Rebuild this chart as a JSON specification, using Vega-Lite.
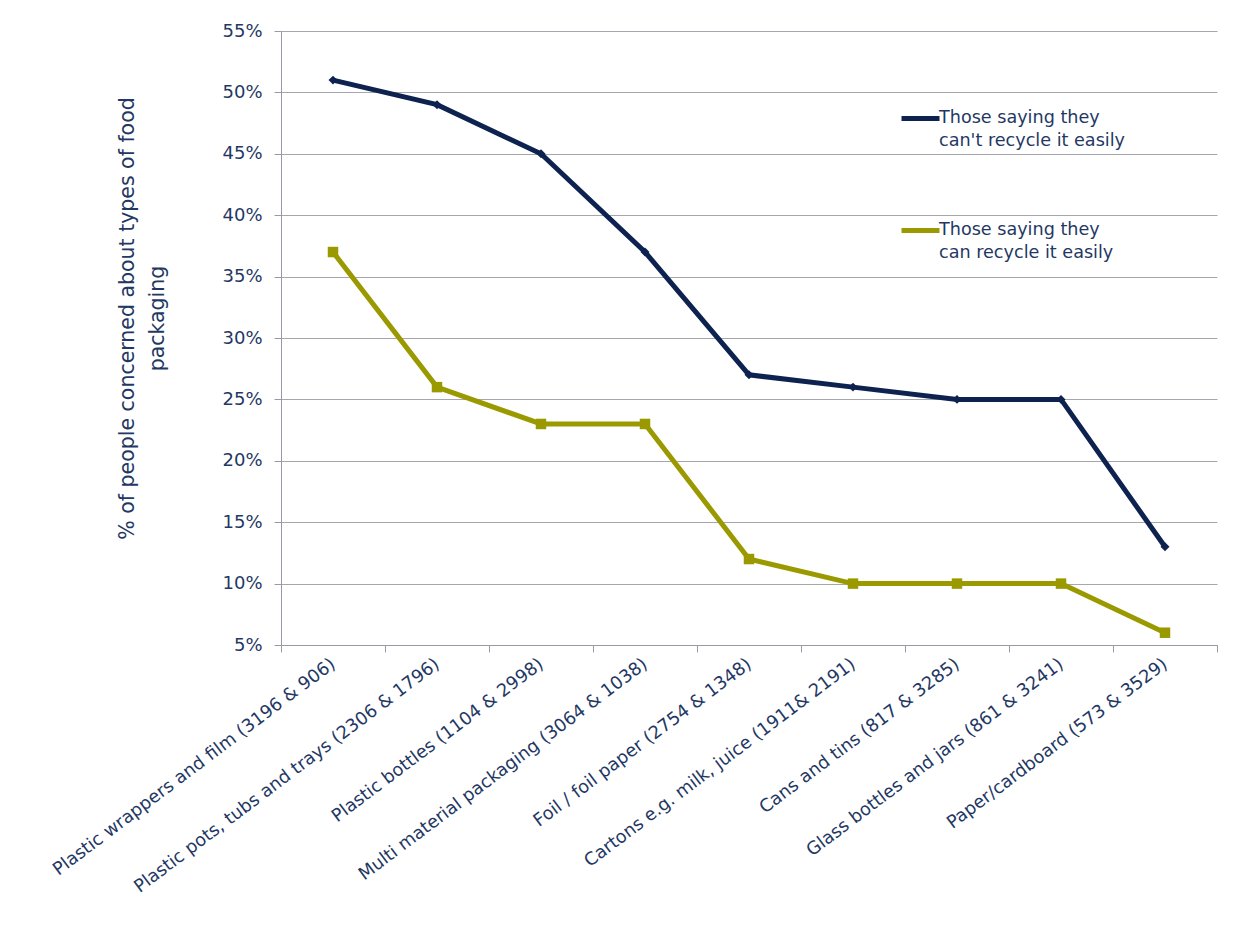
{
  "$schema": "https://vega.github.io/schema/vega-lite/v6.json",
  "autosize": "none",
  "padding": {"left": 281, "top": 31, "right": 20, "bottom": 289},
  "width": 936,
  "height": 614,
  "background": "white",
  "config": {
    "font": "DejaVu Sans",
    "view": {"stroke": null},
    "axis": {"labelColor": "#1F3864", "titleColor": "#1F3864", "labelFont": "DejaVu Sans", "titleFont": "DejaVu Sans"}
  },
  "data": {
    "values": [
      {"cat": "Plastic wrappers and film (3196 & 906)", "series": "Those saying they can't recycle it easily", "v": 51},
      {"cat": "Plastic pots, tubs and trays (2306 & 1796)", "series": "Those saying they can't recycle it easily", "v": 49},
      {"cat": "Plastic bottles (1104 & 2998)", "series": "Those saying they can't recycle it easily", "v": 45},
      {"cat": "Multi material packaging (3064 & 1038)", "series": "Those saying they can't recycle it easily", "v": 37},
      {"cat": "Foil / foil paper (2754 & 1348)", "series": "Those saying they can't recycle it easily", "v": 27},
      {"cat": "Cartons e.g. milk, juice (1911& 2191)", "series": "Those saying they can't recycle it easily", "v": 26},
      {"cat": "Cans and tins (817 & 3285)", "series": "Those saying they can't recycle it easily", "v": 25},
      {"cat": "Glass bottles and jars (861 & 3241)", "series": "Those saying they can't recycle it easily", "v": 25},
      {"cat": "Paper/cardboard (573 & 3529)", "series": "Those saying they can't recycle it easily", "v": 13},
      {"cat": "Plastic wrappers and film (3196 & 906)", "series": "Those saying they can recycle it easily", "v": 37},
      {"cat": "Plastic pots, tubs and trays (2306 & 1796)", "series": "Those saying they can recycle it easily", "v": 26},
      {"cat": "Plastic bottles (1104 & 2998)", "series": "Those saying they can recycle it easily", "v": 23},
      {"cat": "Multi material packaging (3064 & 1038)", "series": "Those saying they can recycle it easily", "v": 23},
      {"cat": "Foil / foil paper (2754 & 1348)", "series": "Those saying they can recycle it easily", "v": 12},
      {"cat": "Cartons e.g. milk, juice (1911& 2191)", "series": "Those saying they can recycle it easily", "v": 10},
      {"cat": "Cans and tins (817 & 3285)", "series": "Those saying they can recycle it easily", "v": 10},
      {"cat": "Glass bottles and jars (861 & 3241)", "series": "Those saying they can recycle it easily", "v": 10},
      {"cat": "Paper/cardboard (573 & 3529)", "series": "Those saying they can recycle it easily", "v": 6}
    ]
  },
  "encoding": {
    "x": {
      "field": "cat", "type": "nominal", "sort": null,
      "scale": {"paddingInner": 0, "paddingOuter": 0},
      "axis": {
        "title": null, "labelAngle": -37, "labelAlign": "right", "labelBaseline": "middle",
        "labelFontSize": 17.8, "labelPadding": 10, "labelLimit": 500,
        "tickBand": "extent", "tickSize": 7, "tickColor": "#9A9AA6", "domainColor": "#9A9AA6",
        "grid": false
      }
    },
    "y": {
      "field": "v", "type": "quantitative",
      "scale": {"domain": [5, 55], "nice": false, "zero": false},
      "axis": {
        "values": [5, 10, 15, 20, 25, 30, 35, 40, 45, 50, 55],
        "labelExpr": "datum.value + '%'",
        "labelFontSize": 18, "labelPadding": 12,
        "tickSize": 7, "tickColor": "#9A9AA6", "domainColor": "#9A9AA6",
        "grid": true, "gridColor": "#A6A6AE", "gridWidth": 1,
        "title": ["% of people concerned about types of food", "packaging"],
        "titleFontSize": 20.5, "titleFontWeight": "normal", "titleAngle": -90,
        "titleX": -154, "titleY": 287, "titleAlign": "center", "titleBaseline": "middle", "titleLineHeight": 30
      }
    }
  },
  "layer": [
    {
      "mark": {"type": "line", "strokeWidth": 5},
      "encoding": {
        "color": {
          "field": "series", "type": "nominal",
          "scale": {"domain": ["Those saying they can't recycle it easily", "Those saying they can recycle it easily"], "range": ["#0E2250", "#9A9A00"]},
          "legend": {
            "title": null, "orient": "none", "legendX": 618, "legendY": 66,
            "symbolType": "stroke", "symbolSize": 1444, "symbolStrokeWidth": 5,
            "labelExpr": "[slice(datum.label, 0, 17), slice(datum.label, 18)]",
            "labelFontSize": 17.6, "labelColor": "#1F3864", "labelFont": "DejaVu Sans",
            "labelLimit": 400, "labelOffset": -3, "rowPadding": 59, "labelBaseline": "top",
            "encode": {"labels": {"update": {"lineHeight": {"value": 23}, "dy": {"value": -10}}}}
          }
        }
      }
    },
    {
      "mark": {"type": "point", "filled": true, "opacity": 1},
      "encoding": {
        "fill": {"condition": {"test": "datum.series == 'Those saying they can recycle it easily'", "value": "#9A9A00"}, "value": "#0E2250"},
        "shape": {"condition": {"test": "datum.series == 'Those saying they can recycle it easily'", "value": "square"}, "value": "diamond"},
        "size": {"condition": {"test": "datum.series == 'Those saying they can recycle it easily'", "value": 110}, "value": 80}
      }
    }
  ]
}
